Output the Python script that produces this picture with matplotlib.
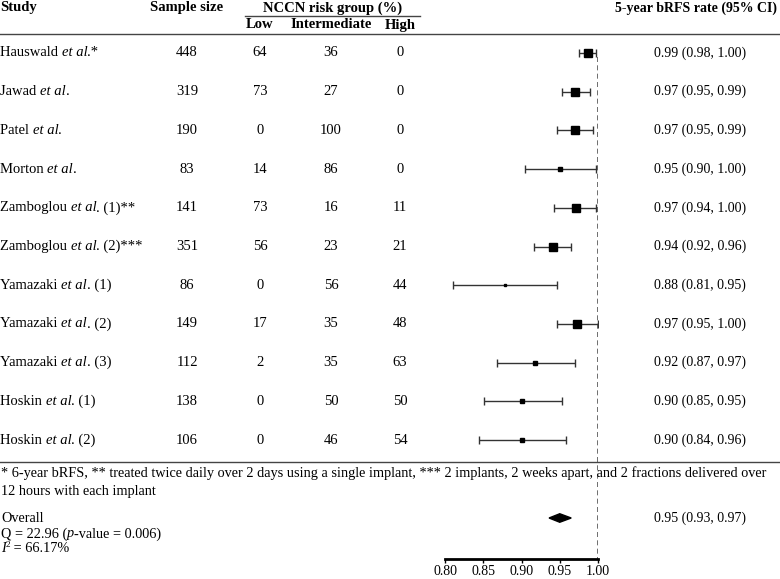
import matplotlib.pyplot as plt
from matplotlib.transforms import blended_transform_factory
import numpy as np

plt.rcParams['font.family'] = ['Liberation Serif', 'DejaVu Serif']

# dados
studies = ["Hauswald et al.*", "Jawad et al.", "Patel et al.", "Morton et al.",
           "Zamboglou et al. (1)**", "Zamboglou et al. (2)***", "Yamazaki et al. (1)",
           "Yamazaki et al. (2)", "Yamazaki et al. (3)", "Hoskin et al. (1)", "Hoskin et al. (2)"]
sample_size = [448, 319, 190, 83, 141, 351, 86, 149, 112, 138, 106]
risk_low = [64, 73, 0, 14, 73, 56, 0, 17, 2, 0, 0]
risk_inter = [36, 27, 100, 86, 16, 23, 56, 35, 35, 50, 46]
risk_high = [0, 0, 0, 0, 11, 21, 44, 48, 63, 50, 54]
rate_text = ["0.99 (0.98, 1.00)", "0.97 (0.95, 0.99)", "0.97 (0.95, 0.99)", "0.95 (0.90, 1.00)",
             "0.97 (0.94, 1.00)", "0.94 (0.92, 0.96)", "0.88 (0.81, 0.95)", "0.97 (0.95, 1.00)",
             "0.92 (0.87, 0.97)", "0.90 (0.85, 0.95)", "0.90 (0.84, 0.96)"]
estimate = [0.987, 0.970, 0.970, 0.950, 0.971, 0.941, 0.878, 0.973, 0.918, 0.901, 0.900]
ci_low = [0.975, 0.953, 0.946, 0.905, 0.943, 0.916, 0.810, 0.946, 0.868, 0.851, 0.844]
ci_high = [0.997, 0.990, 0.994, 0.997, 0.998, 0.965, 0.947, 1.000, 0.970, 0.953, 0.958]
weight = [15.3, 12.1, 12.1, 3.0, 13.6, 13.6, 1.7, 15.3, 4.7, 4.7, 3.8]
overall = [0.950, 0.936, 0.965]
overall_text = "0.95 (0.93, 0.97)"
x_ticks = [0.80, 0.85, 0.90, 0.95, 1.00]

W, H = 780, 579
row0, step = 53, 38.7  # pixel da primeira linha e espaçamento


def row(py):
    return (py - row0) / step


fig = plt.figure(figsize=(W / 100, H / 100), dpi=100)
ax = fig.add_axes([445 / W, (H - 559) / H, 153 / W, 559 / H])
ax.set_xlim(0.80, 1.00)
ax.set_ylim(row(559), row(0))

n = len(studies)
ys = np.arange(n)

# barras de erro e quadrados
for i in range(n):
    ax.errorbar(estimate[i], ys[i], xerr=[[estimate[i] - ci_low[i]], [ci_high[i] - estimate[i]]],
                fmt='none', ecolor='#333333', elinewidth=1, capsize=3, capthick=1)
    ms = np.sqrt(weight[i] * 5.29) * 0.72
    ax.plot(estimate[i], ys[i], 's', color='black', markersize=ms, zorder=3)

# diamante do resultado global
oy = row(518)
ax.fill([overall[1], overall[0], overall[2], overall[0]], [oy, oy - 0.11, oy, oy + 0.11],
        color='black', zorder=3)

ax.plot([1.0, 1.0], [row(57), row(559)], ls=(0, (3, 2)), color='#555555', lw=1.2, zorder=1)

for s in ['left', 'right', 'top']:
    ax.spines[s].set_visible(False)
ax.spines['bottom'].set_linewidth(2)
ax.set_yticks([])
ax.set_xticks(x_ticks)
ax.set_xticklabels(["%.2f" % t for t in x_ticks], fontsize=10)
ax.tick_params(axis='x', length=3, width=1, pad=1.5)

tr = blended_transform_factory(fig.transFigure, ax.transData)
fs = 10.5
renderer = fig.canvas.get_renderer()


def txt(px, py, s, **kw):
    kw.setdefault('fontsize', fs)
    return ax.text(px / W, row(py), s, transform=tr, va='center', clip_on=False, **kw)


def rich(px, py, parts, size=fs):
    # parts: (texto, estilo, deslocamento vertical em pixels, escala)
    x = px
    for s, style, dy, scale in parts:
        t = txt(x, py - dy, s, fontstyle=style, fontsize=size * scale)
        bb = t.get_window_extent(renderer)
        x = bb.x1 * W / fig.bbox.width


def study_parts(s):
    a, b = s.split("et al.")
    return [(a, 'normal', 0, 1), ("et al", 'italic', 0, 1), ("." + b, 'normal', 0, 1)]


# cabeçalho
txt(0, 8, "Study", fontweight='bold')
txt(187, 8, "Sample size", fontweight='bold', ha='center')
txt(333, 8, "NCCN risk group (%)", fontweight='bold', ha='center')
txt(260, 25, "Low", fontweight='bold', ha='center')
txt(331, 25, "Intermediate", fontweight='bold', ha='center')
txt(400, 25, "High", fontweight='bold', ha='center')
txt(777, 8, "5-year bRFS rate (95% CI)", fontweight='bold', ha='right', fontsize=10)

for py, x0, x1 in [(16, 245, 420), (34, 0, W), (462, 0, W)]:
    ax.plot([x0 / W, x1 / W], [row(py), row(py)], transform=tr, color='#444444', lw=1, clip_on=False)

# linhas da tabela
for i in range(n):
    py = row0 + step * i
    rich(0, py, study_parts(studies[i]))
    txt(187, py, str(sample_size[i]), ha='center')
    txt(260, py, str(risk_low[i]), ha='center')
    txt(331, py, str(risk_inter[i]), ha='center')
    txt(400, py, str(risk_high[i]), ha='center')
    txt(700, py, rate_text[i], ha='center', fontsize=10)

txt(1, 473, "* 6-year bRFS, ** treated twice daily over 2 days using a single implant, "
            "*** 2 implants, 2 weeks apart, and 2 fractions delivered over", fontsize=10.3)
txt(1, 491, "12 hours with each implant", fontsize=10.3)
txt(1, 518, "Overall", fontsize=10.3)
rich(1, 534, [("Q = 22.96 (", 'normal', 0, 1), ("p", 'italic', 0, 1),
              ("-value = 0.006)", 'normal', 0, 1)], size=10.3)
rich(1, 548, [("I", 'italic', 0, 1), ("2", 'normal', 3, 0.65),
              (" = 66.17%", 'normal', 0, 1)], size=10.3)
txt(700, 518, overall_text, ha='center', fontsize=10)

fig.savefig("out.png", dpi=100)
